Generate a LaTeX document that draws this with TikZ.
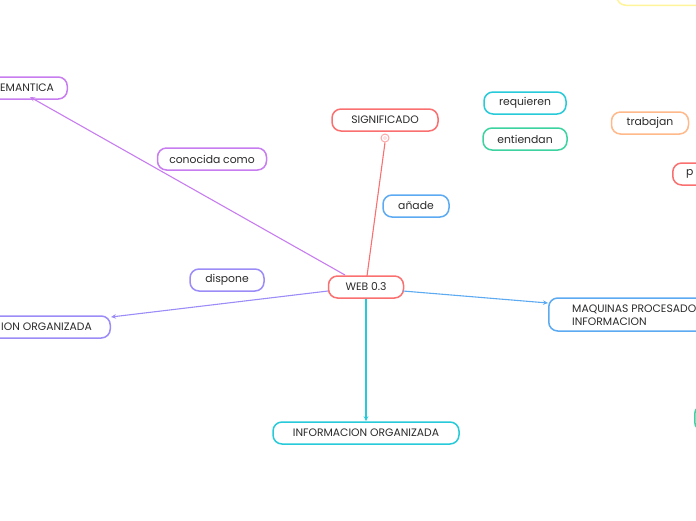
\documentclass[tikz,border=0pt]{standalone}
\usepackage{fontspec}
\setmainfont{Poppins}
\usetikzlibrary{arrows.meta}
\definecolor{cred}{HTML}{FA7070}
\definecolor{cpurple}{HTML}{C77DEF}
\definecolor{clav}{HTML}{9B8CF8}
\definecolor{ccyan}{HTML}{26CAD8}
\definecolor{cteal}{HTML}{3DD3A0}
\definecolor{cblue}{HTML}{5CAAF2}
\definecolor{corange}{HTML}{FFB98A}
\definecolor{cyellow}{HTML}{FFF49A}
\definecolor{ctext}{HTML}{2B2B2B}
\begin{document}
\begin{tikzpicture}[x=1pt,y=-1pt,
  txt/.style={font=\fontsize{10.8}{13}\selectfont,text=ctext},
  box/.style={draw=#1,line width=1.5pt,rounded corners=9pt,fill=white,
    minimum height=22pt,inner sep=0pt,txt},
  conn/.style={draw=#1,line width=1.1pt},
  tip/.style={-{Stealth[length=5pt,width=4.5pt]}}]
\useasboundingbox (0,0) rectangle (696,520);
\begin{scope}
\clip (0,0) rectangle (696,520);
% boxes
\node[box=cpurple,minimum width=130pt,anchor=east] (sem) at (68,88) {};
\node[box=clav,minimum width=180pt,anchor=east] (ion) at (111,327) {};
\node[box=cred,minimum width=106pt] (sig) at (385,120) {SIGNIFICADO};
\node[box=ccyan,minimum width=82pt] (req) at (525,103) {requieren};
\node[box=cteal,minimum width=84pt] (ent) at (525,139) {entiendan};
\node[box=corange,minimum width=77pt] (tra) at (650,123) {trabajan};
\node[box=cred,minimum width=80pt,anchor=west] (pro) at (672,174) {};
\node[box=cyellow,minimum width=120pt,anchor=south west] (yel) at (616,6) {};
\node[box=cteal,minimum width=80pt,minimum height=26pt,anchor=west] (tea) at (694,418) {};
\node[box=cpurple,minimum width=109pt] (con) at (212,159) {conocida como};
\node[box=cblue,minimum width=66pt] (ana) at (416,206) {añade};
\node[box=clav,minimum width=74pt] (dis) at (227,280) {dispone};
\node[box=cred,minimum width=75pt] (web) at (366,287) {WEB 0.3};
\node[box=cblue,minimum width=180pt,minimum height=33pt,anchor=west] (maq) at (548,314.5) {};
\node[box=ccyan,minimum width=186pt] (inf) at (366,433) {INFORMACION ORGANIZADA};
% visible texts of boxes cut by the edge
\node[anchor=west,inner sep=0pt,txt] (semt) at (0,88) {EMANTICA};
\node[anchor=west,inner sep=0pt,txt] (iont) at (1,327) {ION ORGANIZADA};
\node[anchor=west,inner sep=0pt,txt] (prot) at (686,174) {p};
\node[anchor=west,inner sep=0pt,align=left,txt] (maqt) at (572,315.5) {MAQUINAS PROCESADO\\INFORMACION};
\node[circle,draw=cred!60,line width=1pt,minimum size=8pt,inner sep=0pt,fill=white] (dot) at (385,138) {};
\node[circle,draw=cred!40,line width=0.5pt,minimum size=3pt,inner sep=0pt] (dotin) at (385,138) {};
% connectors
\coordinate (wsem) at (345,275);
\coordinate (semend) at (30,97);
\coordinate (wion) at (328,291);
\coordinate (ionend) at (111,317);
\coordinate (wsig) at (367,276);
\coordinate (wmaq) at (403,291);
\coordinate (maqend) at (548,303);
\draw[conn=cpurple,tip] (wsem) -- (semend);
\draw[conn=clav,tip] (wion) -- (ionend);
\draw[conn=cred] (wsig) -- (dot.south);
\draw[conn=cblue,tip] (wmaq) -- (maqend);
\draw[conn=ccyan,tip] (web.south) -- (inf.north);
\end{scope}
\end{tikzpicture}
\end{document}
